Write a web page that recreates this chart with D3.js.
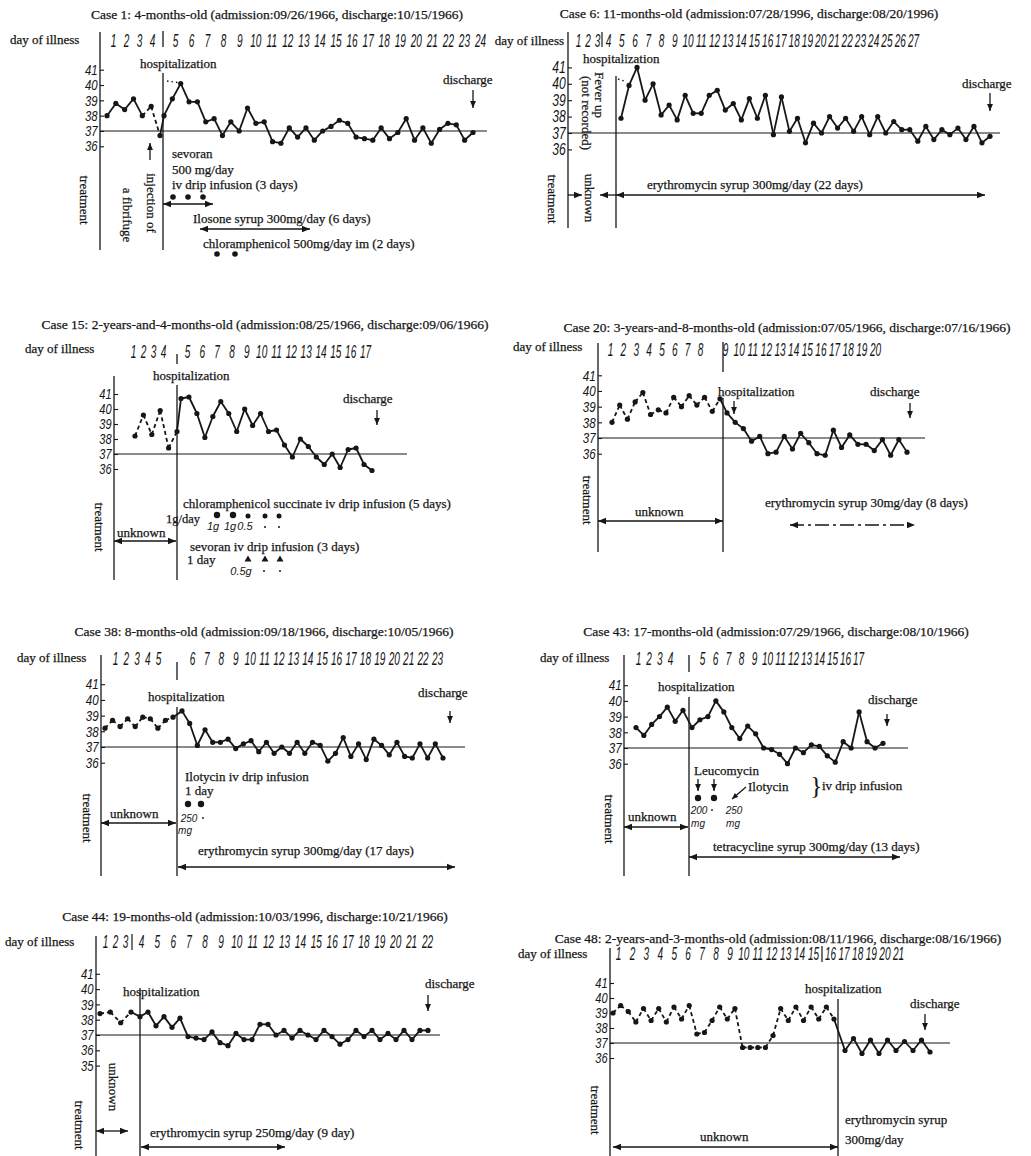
<!DOCTYPE html>
<html><head><meta charset="utf-8">
<script src="https://cdn.jsdelivr.net/npm/d3@7"></script>
<style>
body{margin:0;background:#fff}
svg{display:block;background:#fff}
.serif{font-family:"Liberation Serif","DejaVu Serif","Times New Roman",serif;fill:#161616;stroke:#161616;stroke-width:0.25}
.hand{font-family:"Liberation Sans","DejaVu Sans",sans-serif;font-style:italic;fill:#161616}
</style></head><body>
<svg id="chart" width="1031" height="1156"></svg>
<script>
// ---------- day-of-illness labels ----------
const case1Days  = [1,2,3,4,5,6,7,8,9,10,11,12,13,14,15,16,17,18,19,20,21,22,23,24];
const case6Days  = [1,2,3,4,5,6,7,8,9,10,11,12,13,14,15,16,17,18,19,20,21,22,23,24,25,26,27];
const case15Days = [1,2,3,4,5,6,7,8,9,10,11,12,13,14,15,16,17];
const case20Days = [1,2,3,4,5,6,7,8,9,10,11,12,13,14,15,16,17,18,19,20];
const case38Days = [1,2,3,4,5,6,7,8,9,10,11,12,13,14,15,16,17,18,19,20,21,22,23];
const case43Days = [1,2,3,4,5,6,7,8,9,10,11,12,13,14,15,16,17];
const case44Days = [1,2,3,4,5,6,7,8,9,10,11,12,13,14,15,16,17,18,19,20,21,22];
const case48Days = [1,2,3,4,5,6,7,8,9,10,11,12,13,14,15,16,17,18,19,20,21];

// ---------- temperature tick labels (deg C) ----------
const tempTicks   = [36,37,38,39,40,41];
const tempTicks44 = [35,36,37,38,39,40,41];

// ---------- body temperature readings (morning / evening), before and after admission ----------
const case1Before = [38.0,38.8,38.4,39.1,38.0,38.6,36.7];
const case1After  = [38.0,39.1,40.1,38.9,38.9,37.6,37.8,36.7,37.6,37.0,38.5,37.5,37.6,36.3,36.2,37.2,36.6,37.2,36.4,37.0,
                     37.3,37.7,37.5,36.6,36.5,36.4,37.2,36.5,36.9,37.8,36.4,37.2,36.2,37.1,37.5,37.4,36.4,36.9];

const case6Before = [];
const case6After  = [37.9,39.9,41.0,39.0,40.0,38.1,38.7,37.8,39.3,38.2,38.2,39.3,39.6,38.4,38.8,37.8,39.1,37.9,39.3,36.9,
                     39.2,37.1,37.9,36.4,37.6,37.0,38.0,37.3,37.9,37.1,38.0,36.9,38.0,37.0,37.7,37.2,37.2,36.5,37.4,36.6,
                     37.2,36.9,37.3,36.6,37.4,36.4,36.8];

const case15Before = [38.2,39.6,38.3,39.9,37.4,38.5];
const case15After  = [40.7,40.8,39.7,38.1,39.5,40.5,39.7,38.5,40.0,38.9,39.7,38.5,38.6,37.6,36.8,38.0,37.5,36.8,36.3,37.0,
                      36.1,37.3,37.4,36.3,35.9];

const case20Before = [38.0,39.1,38.2,39.3,39.9,38.5,38.8,38.6,39.6,39.0,39.7,39.1,39.6,38.7,39.5];
const case20After  = [38.6,38.0,37.6,36.8,37.1,36.0,36.1,37.1,36.3,37.3,36.7,36.0,35.9,37.5,36.4,37.2,36.6,36.6,36.2,36.9,
                      35.9,36.9,36.1];

const case38Before = [38.2,38.7,38.3,38.8,38.3,38.9,38.8,38.2,38.7,38.9];
const case38After  = [39.3,38.5,37.1,38.1,37.3,37.3,37.5,36.9,37.2,37.4,36.7,37.3,36.6,37.0,36.6,37.3,36.6,37.3,37.1,36.1,
                      36.6,37.6,36.4,37.2,36.2,37.5,37.1,36.5,37.3,36.4,36.3,37.2,36.3,37.2,36.3];

const case43Before = [38.3,37.8,38.5,39.0,39.6,38.7,39.4];
const case43After  = [38.3,38.8,39.0,40.0,39.3,38.3,37.6,38.4,37.9,37.0,36.9,36.6,36.0,37.0,36.7,37.2,37.1,36.5,36.1,37.4,
                      37.0,39.3,37.4,37.0,37.3];

const case44Before = [38.4,38.5,37.8,38.5];
const case44After  = [38.2,38.5,37.6,38.2,37.5,38.1,36.9,36.8,36.7,37.2,36.5,36.3,37.1,36.7,36.7,37.7,37.7,37.0,37.3,36.8,
                      37.3,37.0,36.7,37.3,36.9,36.4,36.7,37.3,36.9,37.3,36.7,37.1,36.7,37.3,36.7,37.3,37.3];

const case48Before = [39.0,39.5,39.1,38.4,39.3,38.5,39.3,38.4,39.4,38.6,39.5,37.6,37.7,38.5,39.4,38.6,39.3,36.7,36.7,36.7,
                      36.7,37.5,39.3,38.5,39.4,38.5,39.4,38.6,39.4,38.6];
const case48After  = [36.5,37.3,36.3,37.2,36.3,37.2,36.5,37.1,36.5,37.2,36.4];

// ---------- panel layout and annotations ----------
const panels = [
  { // Case 1
    title:{text:"Case 1: 4-months-old (admission:09/26/1966, discharge:10/15/1966)", x:277, y:19},
    dol:{x:10, y:44}, days:case1Days, dayKnots:[1,4,5,24], dayPx:[113,152,175,480], dayY:47,
    axisX:100, axisTop:32, axisBottom:250,
    hospX:163, hospSegs:[[31,47],[73,250]],
    hospText:{x:140, y:68},
    temp:{ticks:tempTicks, domain:[36,41], range:[146.3,69.7]}, baseEnd:487,
    before:case1Before, after:case1After, readPx:[107,160,164,473], dashSegs:[4,5],
    discharge:{x:443, y:84, ax:473, ay0:90, ay1:108},
    items:[
      {type:"rot", text:"treatment", x:85, y:200},
      {type:"rot", text:"injection of", x:152, y:203},
      {type:"rot", text:"a fibrifuge", x:128, y:215},
      {type:"vArrow", x:150, y1:160, y2:143},
      {type:"text", text:"sevoran", x:172, y:158},
      {type:"text", text:"500 mg/day", x:172, y:174},
      {type:"text", text:"iv drip infusion (3 days)", x:172, y:189},
      {type:"dots", xs:[173,188,203], y:197, r:2.8},
      {type:"hArrow", x1:163, x2:213, y:204, heads:"both"},
      {type:"text", text:"Ilosone syrup 300mg/day (6 days)", x:193, y:223},
      {type:"hArrow", x1:200, x2:310, y:229, heads:"both"},
      {type:"text", text:"chloramphenicol 500mg/day im (2 days)", x:203, y:248},
      {type:"dots", xs:[217,235], y:254, r:2.8},
      {type:"dotted", x1:167, y1:81, x2:181, y2:83}
    ]
  },
  { // Case 6
    title:{text:"Case 6: 11-months-old (admission:07/28/1996, discharge:08/20/1996)", x:749, y:18},
    dol:{x:564, y:45, anchor:"end"}, days:case6Days, dayKnots:[1,3,4,27], dayPx:[578,597,608,913], dayY:47,
    axisX:568, axisTop:32, axisBottom:228,
    hospX:616, hospSegs:[[76,228]], bar:{x:602, y0:32, y1:47},
    hospText:{x:583, y:63},
    temp:{ticks:tempTicks, domain:[36,41], range:[149.4,67.4]}, baseEnd:1000,
    before:case6Before, after:case6After, readPx:[null,null,621,990], dashSegs:[],
    discharge:{x:962, y:88, ax:990, ay0:93, ay1:111},
    items:[
      {type:"rot", text:"Fever up", x:600, y:95},
      {type:"rot", text:"(not recorded)", x:587, y:113},
      {type:"rot", text:"treatment", x:553, y:199},
      {type:"rot", text:"unknown", x:590, y:198},
      {type:"hArrow", x1:568, x2:582, y:195, heads:"end"},
      {type:"hArrow", x1:600, x2:616, y:195, heads:"start"},
      {type:"hArrow", x1:616, x2:985, y:195, heads:"both"},
      {type:"text", text:"erythromycin syrup 300mg/day (22 days)", x:647, y:189},
      {type:"dotted", x1:618, y1:79, x2:624, y2:81}
    ]
  },
  { // Case 15
    title:{text:"Case 15: 2-years-and-4-months-old (admission:08/25/1966, discharge:09/06/1966)", x:265, y:329},
    dol:{x:25, y:353}, days:case15Days, dayKnots:[1,4,5,17], dayPx:[133,163,187,365], dayY:358,
    axisX:114, axisTop:376, axisBottom:580,
    hospX:177, hospSegs:[[354,364],[385,580]],
    hospText:{x:153, y:380},
    temp:{ticks:tempTicks, domain:[36,41], range:[469,394]}, baseEnd:407,
    before:case15Before, after:case15After, readPx:[135,177,181,372], dashSegs:[0,1,2,3,4],
    discharge:{x:343, y:403, ax:377, ay0:410, ay1:425},
    items:[
      {type:"rot", text:"treatment", x:100, y:527},
      {type:"text", text:"chloramphenicol succinate iv drip infusion (5 days)", x:183, y:508},
      {type:"text", text:"1g/day", x:166, y:523, size:12.5},
      {type:"dots", xs:[217,233], y:515, r:3.2},
      {type:"dots", xs:[248,265,279], y:516, r:2.5},
      {type:"hand", text:"1g", x:213, y:530},
      {type:"hand", text:"1g", x:230, y:530},
      {type:"hand", text:"0.5", x:245, y:530},
      {type:"dots", xs:[265,279], y:527, r:1},
      {type:"text", text:"unknown", x:117, y:537},
      {type:"hArrow", x1:114, x2:176, y:541, heads:"both"},
      {type:"text", text:"sevoran iv drip infusion (3 days)", x:190, y:551},
      {type:"text", text:"1 day", x:187, y:564},
      {type:"tris", xs:[248,265,280], y:559},
      {type:"hand", text:"0.5g", x:241, y:575},
      {type:"dots", xs:[264,280], y:571, r:1}
    ]
  },
  { // Case 20
    title:{text:"Case 20: 3-years-and-8-months-old (admission:07/05/1966, discharge:07/16/1966)", x:787, y:332},
    dol:{x:513, y:351}, days:case20Days, dayKnots:[1,8,9,20], dayPx:[610,700,725,875], dayY:356,
    axisX:598, axisTop:343, axisBottom:552,
    hospX:723, hospSegs:[[342,372],[398,552]],
    hospText:{x:718, y:396},
    temp:{ticks:tempTicks, domain:[36,41], range:[453.7,375.3]}, baseEnd:925,
    before:case20Before, after:case20After, readPx:[612,720,727,907], dashSegs:[0,1,2,3,4,5,6,7,8,9,10,11,12,13],
    discharge:{x:870, y:396, ax:910, ay0:403, ay1:418},
    items:[
      {type:"vArrow", x:734, y1:401, y2:414},
      {type:"rot", text:"treatment", x:588, y:500},
      {type:"text", text:"unknown", x:635, y:516},
      {type:"hArrow", x1:598, x2:723, y:521, heads:"both"},
      {type:"text", text:"erythromycin syrup 30mg/day (8 days)", x:765, y:507},
      {type:"hArrow", x1:790, x2:915, y:525, heads:"both", dash:"14,4,3,4"}
    ]
  },
  { // Case 38
    title:{text:"Case 38: 8-months-old (admission:09/18/1966, discharge:10/05/1966)", x:264, y:636},
    dol:{x:17, y:662}, days:case38Days, dayKnots:[1,5,6,23], dayPx:[115,158,192,437], dayY:665,
    axisX:101, axisTop:655, axisBottom:876,
    hospX:177, hospSegs:[[662,680],[707,876]],
    hospText:{x:148, y:701},
    temp:{ticks:tempTicks, domain:[36,41], range:[762.7,684.2]}, baseEnd:465,
    before:case38Before, after:case38After, readPx:[105,173,182,443], dashSegs:[0,1,2,3,4,5,6,7,8],
    discharge:{x:418, y:697, ax:450, ay0:711, ay1:723},
    items:[
      {type:"text", text:"Ilotycin iv drip infusion", x:185, y:781},
      {type:"text", text:"1 day", x:185, y:795},
      {type:"dots", xs:[188,201], y:804, r:3.2},
      {type:"hand", text:"250", x:189, y:822, size:10},
      {type:"dots", xs:[203], y:818, r:0.9},
      {type:"hand", text:"mg", x:185, y:834, size:10},
      {type:"text", text:"unknown", x:110, y:818},
      {type:"hArrow", x1:101, x2:176, y:823, heads:"both"},
      {type:"rot", text:"treatment", x:88, y:818},
      {type:"text", text:"erythromycin syrup 300mg/day (17 days)", x:198, y:855},
      {type:"hArrow", x1:178, x2:455, y:867, heads:"both"}
    ]
  },
  { // Case 43
    title:{text:"Case 43:  17-months-old (admission:07/29/1966, discharge:08/10/1966)", x:776, y:636},
    dol:{x:540, y:662}, days:case43Days, dayKnots:[1,4,5,17], dayPx:[638,670,702,858], dayY:665,
    axisX:624, axisTop:655, axisBottom:876,
    hospX:689, hospSegs:[[655,672],[697,876]],
    hospText:{x:658, y:691},
    temp:{ticks:tempTicks, domain:[36,41], range:[763.7,685.2]}, baseEnd:908,
    before:case43Before, after:case43After, readPx:[636,683,692,883], dashSegs:[],
    discharge:{x:868, y:704, ax:887, ay0:714, ay1:726},
    items:[
      {type:"text", text:"Leucomycin", x:694, y:775},
      {type:"vArrow", x:698, y1:779, y2:791},
      {type:"vArrow", x:714, y1:779, y2:791},
      {type:"dots", xs:[698,714], y:798, r:3.2},
      {type:"text", text:"Ilotycin", x:748, y:791},
      {type:"seg", x1:746, y1:787, x2:732, y2:799},
      {type:"brace", x:810, y:794},
      {type:"text", text:"iv drip infusion", x:822, y:790},
      {type:"hand", text:"200", x:699, y:814, size:10},
      {type:"dots", xs:[712], y:810, r:0.9},
      {type:"hand", text:"250", x:734, y:814, size:10},
      {type:"hand", text:"mg", x:698, y:827, size:10},
      {type:"hand", text:"mg", x:733, y:827, size:10},
      {type:"text", text:"unknown", x:628, y:821},
      {type:"hArrow", x1:624, x2:688, y:827, heads:"both"},
      {type:"rot", text:"treatment", x:610, y:819},
      {type:"text", text:"tetracycline syrup 300mg/day (13 days)", x:713, y:851},
      {type:"hArrow", x1:689, x2:900, y:857, heads:"both"}
    ]
  },
  { // Case 44
    title:{text:"Case 44:  19-months-old (admission:10/03/1996, discharge:10/21/1966)", x:255, y:921},
    dol:{x:5, y:946}, days:case44Days, dayKnots:[1,3,4,22], dayPx:[105,125,141,427], dayY:948,
    axisX:96, axisTop:936, axisBottom:1156,
    hospX:140, hospSegs:[[988,1156]], bar:{x:132, y0:934, y1:950},
    hospText:{x:123, y:996},
    temp:{ticks:tempTicks44, domain:[35,41], range:[1065.6,973.8]}, baseEnd:440,
    before:case44Before, after:case44After, readPx:[100,131,140,428], dashSegs:[0,1,2],
    discharge:{x:425, y:988, ax:428, ay0:995, ay1:1011},
    items:[
      {type:"rot", text:"treatment", x:80, y:1125},
      {type:"rot", text:"unknown", x:114, y:1087},
      {type:"hArrow", x1:96, x2:128, y:1131, heads:"both"},
      {type:"text", text:"erythromycin syrup 250mg/day (9 day)", x:150, y:1137},
      {type:"hArrow", x1:141, x2:285, y:1147, heads:"both"}
    ]
  },
  { // Case 48
    title:{text:"Case 48:  2-years-and-3-months-old (admission:08/11/1966, discharge:08/16/1966)", x:778, y:943},
    dol:{x:518, y:958}, days:case48Days, dayKnots:[1,15,16,21], dayPx:[618,813,830,898], dayY:960,
    axisX:610, axisTop:948, axisBottom:1156,
    hospX:838, hospSegs:[[999,1156]], bar:{x:822, y0:946, y1:962},
    hospText:{x:805, y:993},
    temp:{ticks:tempTicks, domain:[36,41], range:[1058,983]}, baseEnd:950,
    before:case48Before, after:case48After, readPx:[613,834,845,930],
    dashSegs:[0,1,2,3,4,5,6,7,8,9,10,11,12,13,14,15,16,17,18,19,20,21,22,23,24,25,26,27,28],
    discharge:{x:910, y:1008, ax:925, ay0:1014, ay1:1030},
    items:[
      {type:"rot", text:"treatment", x:596, y:1110},
      {type:"text", text:"unknown", x:700, y:1141},
      {type:"hArrow", x1:613, x2:838, y:1147, heads:"both"},
      {type:"text", text:"erythromycin syrup", x:845, y:1124},
      {type:"text", text:"300mg/day", x:845, y:1144}
    ]
  }
];

// ---------- drawing ----------
const svg = d3.select("#chart");
const INK = "#161616";

function head(g, x, y, dir, size) {
  const s = size || 6, w = s * 0.42;
  let pts;
  if (dir === "right") pts = [[x, y], [x - s, y - w], [x - s, y + w]];
  else if (dir === "left") pts = [[x, y], [x + s, y - w], [x + s, y + w]];
  else if (dir === "down") pts = [[x, y], [x - w, y - s], [x + w, y - s]];
  else pts = [[x, y], [x - w, y + s], [x + w, y + s]];
  g.append("path").attr("d", "M" + pts.join("L") + "Z").attr("fill", INK);
}

function drawItem(g, it) {
  switch (it.type) {
    case "text":
      g.append("text").attr("class", "serif").attr("x", it.x).attr("y", it.y)
        .style("font-size", (it.size || 13) + "px").text(it.text);
      break;
    case "hand":
      g.append("text").attr("class", "hand").attr("x", it.x).attr("y", it.y)
        .attr("text-anchor", "middle").style("font-size", (it.size || 11) + "px").text(it.text);
      break;
    case "rot":
      g.append("text").attr("class", "serif")
        .attr("transform", `translate(${it.x},${it.y}) rotate(90)`)
        .attr("text-anchor", "middle").attr("dy", "0.35em")
        .style("font-size", "13px").text(it.text);
      break;
    case "hArrow": {
      g.append("line").attr("x1", it.x1).attr("x2", it.x2).attr("y1", it.y).attr("y2", it.y)
        .attr("stroke", INK).attr("stroke-width", 1.3).attr("stroke-dasharray", it.dash || null);
      if (it.heads === "both" || it.heads === "start") head(g, it.x1, it.y, "left", 8);
      if (it.heads === "both" || it.heads === "end") head(g, it.x2, it.y, "right", 8);
      break;
    }
    case "vArrow": {
      g.append("line").attr("x1", it.x).attr("x2", it.x).attr("y1", it.y1).attr("y2", it.y2)
        .attr("stroke", INK).attr("stroke-width", 1.3);
      head(g, it.x, it.y2, it.y2 > it.y1 ? "down" : "up", 7);
      break;
    }
    case "seg": {
      g.append("line").attr("x1", it.x1).attr("x2", it.x2).attr("y1", it.y1).attr("y2", it.y2)
        .attr("stroke", INK).attr("stroke-width", 1.2);
      const a = Math.atan2(it.y2 - it.y1, it.x2 - it.x1), s = 6, w = 2.6;
      const p = [[it.x2, it.y2],
        [it.x2 - s * Math.cos(a) + w * Math.sin(a), it.y2 - s * Math.sin(a) - w * Math.cos(a)],
        [it.x2 - s * Math.cos(a) - w * Math.sin(a), it.y2 - s * Math.sin(a) + w * Math.cos(a)]];
      g.append("path").attr("d", "M" + p.join("L") + "Z").attr("fill", INK);
      break;
    }
    case "dots":
      it.xs.forEach(x => g.append("circle").attr("cx", x).attr("cy", it.y).attr("r", it.r).attr("fill", INK));
      break;
    case "tris":
      it.xs.forEach(x => g.append("path")
        .attr("d", `M${x},${it.y - 3.5}L${x - 3.5},${it.y + 2.5}L${x + 3.5},${it.y + 2.5}Z`).attr("fill", INK));
      break;
    case "brace":
      g.append("text").attr("class", "serif").attr("x", it.x).attr("y", it.y)
        .style("font-size", "26px").style("stroke-width", 0).text("}");
      break;
    case "dotted":
      g.append("line").attr("x1", it.x1).attr("y1", it.y1).attr("x2", it.x2).attr("y2", it.y2)
        .attr("stroke", INK).attr("stroke-width", 1.4).attr("stroke-dasharray", "1.5,3");
      break;
  }
}

function drawPanel(p) {
  const g = svg.append("g");

  // title and row caption
  g.append("text").attr("class", "serif").attr("x", p.title.x).attr("y", p.title.y)
    .attr("text-anchor", "middle").style("font-size", "13.5px").text(p.title.text);
  g.append("text").attr("class", "serif").attr("x", p.dol.x).attr("y", p.dol.y)
    .attr("text-anchor", p.dol.anchor || "start").style("font-size", "13px").text("day of illness");

  // day-of-illness numbers (narrow, hand-lettered look)
  const dayScale = d3.scaleLinear().domain(p.dayKnots).range(p.dayPx);
  const dayAxis = g.append("g").attr("transform", `translate(0,${p.dayY})`)
    .call(d3.axisTop(dayScale).tickValues(p.days).tickSize(0).tickPadding(0).tickFormat(d3.format("d")));
  dayAxis.select(".domain").remove();
  dayAxis.attr("font-family", null).attr("font-size", null);
  dayAxis.selectAll("text").attr("class", "hand").attr("y", 0).attr("dy", null)
    .attr("transform", "scale(0.56,1)").style("font-size", "18px");

  // temperature axis
  const y = d3.scaleLinear().domain(p.temp.domain).range(p.temp.range);
  const step = Math.abs(y(1) - y(0));
  const yAxis = g.append("g").attr("transform", `translate(${p.axisX},0)`)
    .call(d3.axisLeft(y).tickValues(p.temp.ticks).tickSize(-4).tickPadding(3).tickFormat(d3.format("d")));
  yAxis.select(".domain").remove();
  yAxis.attr("font-family", null).attr("font-size", null);
  yAxis.selectAll(".tick line").attr("stroke", INK).attr("stroke-width", 1.1);
  yAxis.selectAll("text").attr("class", "hand").attr("transform", "scale(0.78,1)")
    .style("font-size", Math.min(17, step * 0.95).toFixed(1) + "px");

  // vertical frame lines
  g.append("line").attr("x1", p.axisX).attr("x2", p.axisX).attr("y1", p.axisTop).attr("y2", p.axisBottom)
    .attr("stroke", INK).attr("stroke-width", 1.3);
  p.hospSegs.forEach(s => g.append("line").attr("x1", p.hospX).attr("x2", p.hospX)
    .attr("y1", s[0]).attr("y2", s[1]).attr("stroke", INK).attr("stroke-width", 1.3));
  if (p.bar) g.append("line").attr("x1", p.bar.x).attr("x2", p.bar.x).attr("y1", p.bar.y0).attr("y2", p.bar.y1)
    .attr("stroke", INK).attr("stroke-width", 1.2);

  // 37 degree reference line
  g.append("line").attr("x1", p.axisX).attr("x2", p.baseEnd).attr("y1", y(37)).attr("y2", y(37))
    .attr("stroke", INK).attr("stroke-width", 1.2);

  // labels for admission and discharge
  g.append("text").attr("class", "serif").attr("x", p.hospText.x).attr("y", p.hospText.y)
    .style("font-size", "13px").text("hospitalization");
  g.append("text").attr("class", "serif").attr("x", p.discharge.x).attr("y", p.discharge.y)
    .style("font-size", "13px").text("discharge");
  drawItem(g, {type: "vArrow", x: p.discharge.ax, y1: p.discharge.ay0, y2: p.discharge.ay1});

  // temperature curve
  const nb = p.before.length, na = p.after.length;
  const readings = p.before.concat(p.after).map((t, i) => ({i, t}));
  const x = d3.scaleLinear()
    .domain(nb ? [0, nb - 1, nb, nb + na - 1] : [0, na - 1])
    .range(nb ? p.readPx : p.readPx.slice(2));
  g.append("g").selectAll("line").data(d3.pairs(readings)).join("line")
    .attr("x1", d => x(d[0].i)).attr("y1", d => y(d[0].t))
    .attr("x2", d => x(d[1].i)).attr("y2", d => y(d[1].t))
    .attr("stroke", INK).attr("stroke-width", 1.8)
    .attr("stroke-dasharray", d => p.dashSegs.includes(d[0].i) ? "4,3" : null);
  g.append("g").selectAll("circle").data(readings).join("circle")
    .attr("cx", d => x(d.i)).attr("cy", d => y(d.t)).attr("r", 2.6).attr("fill", INK);

  // treatment annotations
  p.items.forEach(it => drawItem(g, it));
}

panels.forEach(drawPanel);
</script>
</body></html>
